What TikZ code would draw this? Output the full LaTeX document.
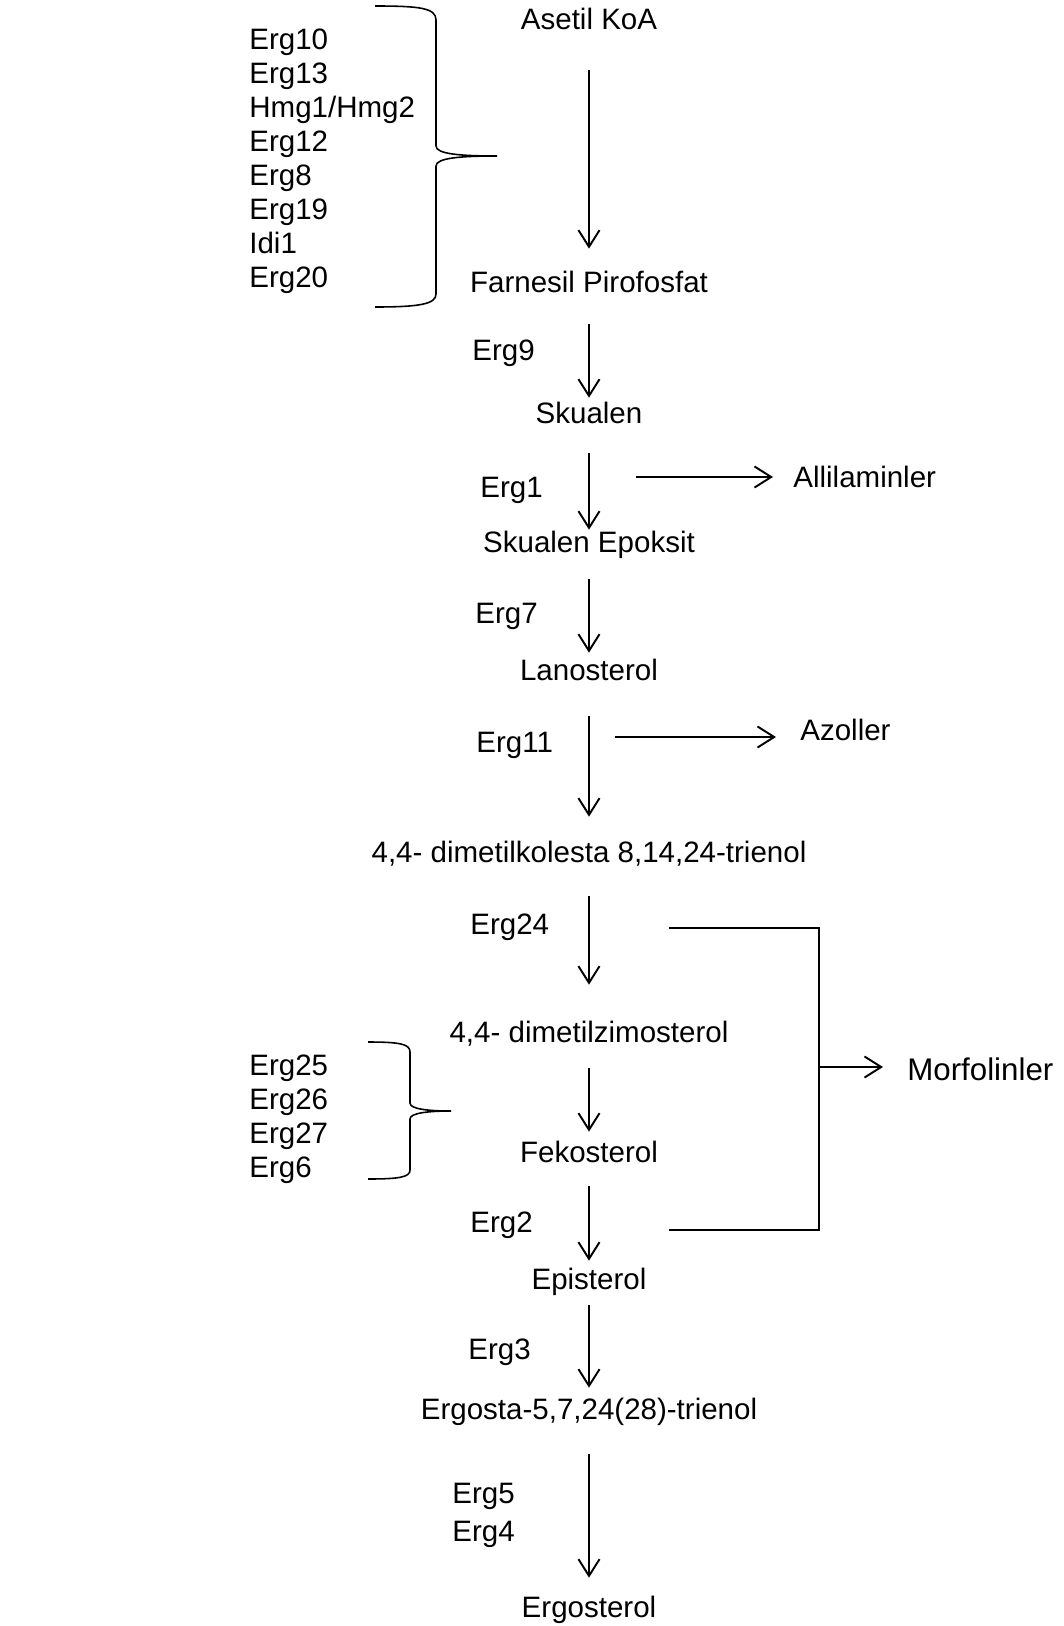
\documentclass[tikz,border=0pt]{standalone}
\usepackage{fontspec}
\setmainfont{Liberation Sans}
\usetikzlibrary{arrows.meta,calc}

\tikzset{
  lbl/.style={inner sep=0pt, text height=0.435cm, text depth=0.145cm, anchor=base},
  enz/.style={lbl, anchor=base west},
  flow/.style={-{Straight Barb[length=9.5pt,width=12pt]}, line width=1.1pt},
  gap/.style 2 args={shorten <={#1*0.02cm}, shorten >={#2*0.02cm}},
  brace/.style={line width=0.9pt}
}

\begin{document}
\begin{tikzpicture}[x=0.02cm, y=-0.02cm, font=\fontsize{16.8}{19.5}\selectfont]
\useasboundingbox (0,0) rectangle (1064,1626);
% Pathway
\node[lbl] (asetil) at (589,30) {Asetil KoA};
\node[lbl] (farnesil) at (589,292) {Farnesil Pirofosfat};
\node[lbl] (skualen) at (589,423) {Skualen};
\node[lbl] (epoksit) at (589,552) {Skualen Epoksit};
\node[lbl] (lanosterol) at (589,680) {Lanosterol};
\node[lbl] (kolesta) at (589,862) {4,4- dimetilkolesta 8,14,24-trienol};
\node[lbl] (zimosterol) at (589,1042) {4,4- dimetilzimosterol};
\node[lbl] (fekosterol) at (589,1162) {Fekosterol};
\node[lbl] (episterol) at (589,1289) {Episterol};
\node[lbl] (ergosta) at (589,1419) {Ergosta-5,7,24(28)-trienol};
\node[lbl] (ergosterol) at (589,1617) {Ergosterol};
\draw[flow, gap={32.75}{21.25}] (asetil) -- (farnesil);
\draw[flow, gap={24.75}{3.25}] (farnesil) -- (skualen);
\draw[flow, gap={22.75}{0.25}] (skualen) -- (epoksit);
\draw[flow, gap={19.75}{5.25}] (epoksit) -- (lanosterol);
\draw[flow, gap={28.75}{23.25}] (lanosterol) -- (kolesta);
\draw[flow, gap={26.75}{35.25}] (kolesta) -- (zimosterol);
\draw[flow, gap={18.75}{8.25}] (zimosterol) -- (fekosterol);
\draw[flow, gap={16.75}{6.25}] (fekosterol) -- (episterol);
\draw[flow, gap={8.75}{9.25}] (episterol) -- (ergosta);
\draw[flow, gap={27.75}{17.25}] (ergosta) -- (ergosterol);
% Enzymes
\foreach \name [count=\i from 0] in {Erg10,Erg13,Hmg1/Hmg2,Erg12,Erg8,Erg19,Idi1,Erg20}
  \node[enz] (mev\i) at (249,{50+33.9*\i}) {\name};
\foreach \name [count=\i from 0] in {Erg25,Erg26,Erg27,Erg6}
  \node[enz] (post\i) at (249,{1075+34.2*\i}) {\name};
\node[enz] (erg9) at (472,360) {Erg9};
\node[enz] (erg1) at (480,497) {Erg1};
\node[enz] (erg7) at (475,623) {Erg7};
\node[enz] (erg11) at (476,752) {Erg11};
\node[enz] (erg24) at (470,934) {Erg24};
\node[enz] (erg2) at (470,1232) {Erg2};
\node[enz] (erg3) at (468,1359) {Erg3};
\node[enz] (erg5) at (452,1503) {Erg5};
\node[enz] (erg4) at (452,1541) {Erg4};
% Braces
\draw[brace] (375,6) .. controls (420,6) and (436,8) .. (436,20) -- (436,146)
  .. controls (436,154) and (460,156) .. (497,156)
  .. controls (460,156) and (436,158) .. (436,166) -- (436,294)
  .. controls (436,304) and (420,307) .. (375,307);
\draw[brace] (368,1042) .. controls (400,1042) and (410,1044) .. (410,1052) -- (410,1103)
  .. controls (410,1109) and (428,1111) .. (451,1111)
  .. controls (428,1111) and (410,1113) .. (410,1119) -- (410,1170)
  .. controls (410,1177) and (400,1179) .. (368,1179);
% Inhibitors
\coordinate (allilS) at (636,477);
\node[enz] (allil) at (793,487) {Allilaminler};
\draw[flow, shorten >={20*0.02cm}] (allilS) -- (allilS -| allil.west);
\coordinate (azolS) at (615,737);
\node[enz] (azol) at (800,740) {Azoller};
\draw[flow, shorten >={24*0.02cm}] (azolS) -- (azolS -| azol.west);
\coordinate (morA) at (669,928);
\coordinate (morB) at (669,1230);
\coordinate (morC) at (819,1067);
\draw[line width=1pt] (morA) -- (morA -| morC) -- (morB -| morC) -- (morB);
\node[enz, font=\fontsize{17.8}{21}\selectfont] (morf) at (907,1080) {Morfolinler};
\draw[flow, shorten >={24*0.02cm}] (morC) -- (morC -| morf.west);
\end{tikzpicture}
\end{document}
